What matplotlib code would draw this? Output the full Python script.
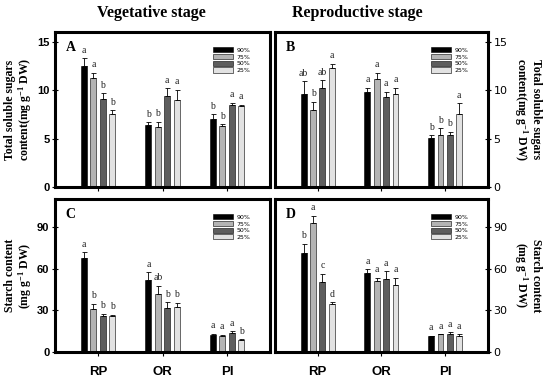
import matplotlib.pyplot as plt
import numpy as np

groups = ['RP', 'OR', 'PI']
levels = ['90%', '75%', '50%', '25%']
colors = ['#000000', '#b4b4b4', '#5e5e5e', '#e2e2e2']

# Total soluble sugars, vegetative stage (A)
sug_veg = [[12.5, 6.4, 7.0], [11.25, 6.15, 6.3], [9.1, 9.4, 8.45], [7.5, 8.95, 8.35]]
sug_veg_err = [[0.8, 0.3, 0.5], [0.55, 0.6, 0.2], [0.6, 0.8, 0.25], [0.4, 1.1, 0.15]]
sug_veg_let = [['a', 'b', 'b'], ['a', 'b', 'b'], ['b', 'a', 'a'], ['b', 'a', 'a']]

# Total soluble sugars, reproductive stage (B)
sug_rep = [[9.65, 9.8, 5.07], [7.95, 11.15, 5.35], [10.2, 9.25, 5.4], [12.3, 9.65, 7.55]]
sug_rep_err = [[1.25, 0.45, 0.25], [0.85, 0.65, 0.7], [0.85, 0.6, 0.3], [0.45, 0.6, 1.1]]
sug_rep_let = [['ab', 'a', 'b'], ['b', 'a', 'b'], ['ab', 'a', 'b'], ['a', 'a', 'a']]

# Starch, vegetative stage (C)
st_veg = [[67.9, 51.6, 12.2], [31.0, 42.0, 11.7], [25.9, 31.7, 13.7], [25.7, 32.6, 8.4]]
st_veg_err = [[3.9, 5.8, 1.0], [3.8, 5.7, 0.7], [1.7, 4.3, 1.4], [1.2, 2.9, 0.7]]
st_veg_let = [['a', 'a', 'a'], ['b', 'ab', 'a'], ['b', 'b', 'a'], ['b', 'b', 'b']]

# Starch, reproductive stage (D)
st_rep = [[71.0, 56.9, 11.3], [92.9, 51.1, 12.7], [50.4, 52.8, 12.7], [34.8, 48.2, 11.7]]
st_rep_err = [[6.8, 2.6, 0.5], [5.0, 2.2, 0.3], [5.8, 5.5, 1.4], [1.0, 5.1, 1.0]]
st_rep_let = [['b', 'a', 'a'], ['a', 'a', 'a'], ['c', 'a', 'a'], ['d', 'a', 'a']]

serif = 'Liberation Serif'
sans = 'Liberation Sans'
sug_label = 'Total soluble sugars\ncontent(mg g$^{-1}$ DW)'
st_label = 'Starch content\n(mg g$^{-1}$ DW)'

fig = plt.figure(figsize=(5.5, 3.77), dpi=100)
plt.rcParams['mathtext.fontset'] = 'custom'
plt.rcParams['mathtext.rm'] = serif + ':bold'
plt.rcParams['mathtext.it'] = serif + ':bold'

L, R = 0.1, 0.5
W = 0.391
positions = {
    'A': [L, 0.504, W, 0.411],
    'B': [R, 0.504, 0.387, 0.411],
    'C': [L, 0.066, W, 0.406],
    'D': [R, 0.066, 0.387, 0.406],
}

panels = [
    ('A', sug_veg, sug_veg_err, sug_veg_let, 16, [0, 5, 10, 15], 'left', sug_label, False, 0.35),
    ('B', sug_rep, sug_rep_err, sug_rep_let, 16, [0, 5, 10, 15], 'right', sug_label, False, 0.35),
    ('C', st_veg, st_veg_err, st_veg_let, 110, [0, 30, 60, 90], 'left', st_label, True, 2.5),
    ('D', st_rep, st_rep_err, st_rep_let, 110, [0, 30, 60, 90], 'right', st_label, True, 2.5),
]

x = np.arange(len(groups))
bw = 0.093
step = 0.147

for name, vals, errs, lets, ymax, yt, side, ylab, show_x, pad in panels:
    ax = fig.add_axes(positions[name])
    for i, lev in enumerate(levels):
        xs = x + (i - 1.5) * step
        ax.bar(xs, vals[i], bw, color=colors[i], edgecolor='black', linewidth=0.4,
               yerr=[np.zeros(3), errs[i]], error_kw=dict(ecolor='black', elinewidth=0.6, capsize=1.8, capthick=0.6),
               label=lev)
        for j in range(3):
            ax.text(xs[j], vals[i][j] + errs[i][j] + pad, lets[i][j], ha='center', va='bottom',
                    fontsize=7, family=serif, color='#222222')
    ax.set_xlim(-0.67, 2.67)
    ax.set_ylim(0, ymax)
    ax.set_yticks(yt)
    for s in ax.spines.values():
        s.set_linewidth(2.2)
    ax.tick_params(axis='y', direction='inout', length=4, width=0.8, labelsize=8, pad=2)
    ax.tick_params(axis='x', direction='out', length=3, width=0.8, labelsize=9)
    for lab in ax.get_yticklabels():
        lab.set_fontfamily(sans)
        lab.set_fontweight('bold')
    ax.set_xticks(x)
    if show_x:
        ax.set_xticklabels(groups, fontfamily=sans, fontweight='bold', fontsize=9.5)
        ax.tick_params(axis='x', pad=7)
    else:
        ax.set_xticklabels([])
    if side == 'right':
        ax.yaxis.tick_right()
        ax.yaxis.set_label_position('right')
        ax.set_ylabel(ylab, rotation=270, labelpad=25, fontsize=8.5, family=serif, fontweight='bold',
                      linespacing=1.05)
    else:
        ax.set_ylabel(ylab, labelpad=2, fontsize=8.5, family=serif, fontweight='bold', linespacing=1.05)
    ax.text(0.05, 0.9, name, transform=ax.transAxes, fontsize=10, family=serif, fontweight='bold',
            va='center', ha='left')
    leg = ax.legend(loc='upper right', bbox_to_anchor=(0.93, 0.93), frameon=False, fontsize=4.5,
                    handlelength=3.2, handleheight=0.9, labelspacing=0.15, handletextpad=0.6,
                    borderpad=0.2)

fig.text(151 / 550, 0.965, 'Vegetative stage', ha='center', va='center', fontsize=11.5,
         family=serif, fontweight='bold')
fig.text(357 / 550, 0.965, 'Reproductive stage', ha='center', va='center', fontsize=11.5,
         family=serif, fontweight='bold')

fig.savefig('out.png', dpi=100)
